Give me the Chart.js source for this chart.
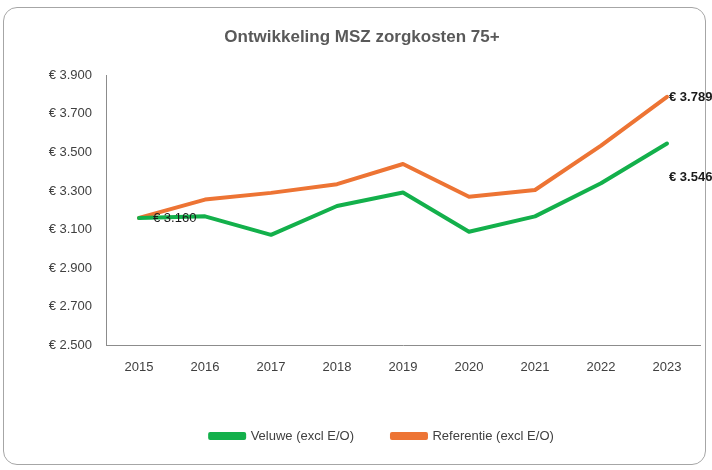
<!DOCTYPE html>
<html><head><meta charset="utf-8">
<script src="https://cdn.jsdelivr.net/npm/chart.js@4/dist/chart.umd.min.js"></script>
<style>
html,body{margin:0;padding:0;background:#fff;}
#wrap{position:relative;width:712px;height:470px;}
#frame{position:absolute;left:3px;top:7px;width:703px;height:458px;border:1px solid #a6a6a6;border-radius:14px;pointer-events:none;box-sizing:border-box;}
canvas{display:block;}
</style></head><body>
<div id="wrap"><canvas id="c" width="712" height="470"></canvas><div id="frame"></div></div>
<script>
const years = ['2015','2016','2017','2018','2019','2020','2021','2022','2023'];
const veluwe = [3160, 3168, 3072, 3222, 3292, 3088, 3168, 3340, 3546];
const referentie = [3160, 3255, 3290, 3335, 3440, 3270, 3305, 3535, 3789];
const seriesNames = ['Veluwe (excl E/O)', 'Referentie (excl E/O)'];
const chartTitle = 'Ontwikkeling MSZ zorgkosten 75+';
const yMin = 2500, yMax = 3900, yStep = 200;

const FONT = "'Liberation Sans Narrow', 'Arial Narrow', 'Liberation Sans', sans-serif";
const fmt = v => '€ ' + Math.round(v).toLocaleString('nl-NL');

const labelPlugin = {
  id: 'pointLabels',
  afterDatasetsDraw(chart) {
    const ctx = chart.ctx;
    const m0 = chart.getDatasetMeta(0).data;
    const m1 = chart.getDatasetMeta(1).data;
    ctx.save();
    ctx.fillStyle = '#1a1a1a';
    ctx.textBaseline = 'middle';
    ctx.textAlign = 'left';
    ctx.font = "13px " + FONT;
    const p0 = m1[0];
    ctx.fillText(fmt(referentie[0]), p0.x + 14, p0.y + 1);
    ctx.font = "bold 13px " + FONT;
    const pl = m1[m1.length - 1];
    ctx.fillText(fmt(referentie[referentie.length - 1]), pl.x + 2, pl.y + 1);
    const gl = m0[m0.length - 1];
    ctx.fillText(fmt(veluwe[veluwe.length - 1]), gl.x + 2, gl.y + 34);
    ctx.restore();
  }
};

const shiftLegend = {
  id: 'shiftLegend',
  afterLayout(chart) {
    const lg = chart.legend;
    const dx = 20;
    const want = 437;
    const cur = lg.top + lg.options.labels.padding + 7.5;
    const dy = want - cur;
    lg.left += dx; lg.right += dx;
    lg.top += dy; lg.bottom += dy;
  }
};

new Chart(document.getElementById('c'), {
  type: 'line',
  data: {
    labels: years,
    datasets: [
      { label: seriesNames[0], data: veluwe, borderColor: '#13b04b', backgroundColor: '#13b04b', borderWidth: 4, pointRadius: 0, tension: 0, borderJoinStyle: 'round', borderCapStyle: 'round' },
      { label: seriesNames[1], data: referentie, borderColor: '#ed7434', backgroundColor: '#ed7434', borderWidth: 4, pointRadius: 0, tension: 0, borderJoinStyle: 'round', borderCapStyle: 'round' }
    ]
  },
  options: {
    responsive: false,
    animation: false,
    devicePixelRatio: 1,
    layout: { padding: { left: 24, right: 12, top: 0, bottom: 0 } },
    plugins: {
      title: {
        display: true, text: chartTitle, color: '#595959',
        font: { family: FONT, size: 17, weight: 'bold' },
        padding: { top: 27, bottom: 28 }
      },
      legend: {
        position: 'bottom',
        labels: {
          color: '#404040', font: { family: FONT, size: 13 },
          boxWidth: 34, boxHeight: 4, padding: 38
        }
      },
      tooltip: { enabled: false }
    },
    scales: {
      x: {
        offset: true,
        grid: { display: false, drawTicks: false },
        border: { display: true, color: '#8c8c8c', width: 1 },
        ticks: { color: '#404040', font: { family: FONT, size: 13 }, padding: 15 },
        afterFit(s) { s.height = 64; }
      },
      y: {
        min: yMin, max: yMax,
        grid: { display: false, drawTicks: false },
        border: { display: true, color: '#8c8c8c', width: 1 },
        ticks: { stepSize: yStep, color: '#404040', font: { family: FONT, size: 13 }, padding: 14, callback: v => fmt(v) },
        afterFit(s) { s.width = 82; }
      }
    }
  },
  plugins: [labelPlugin, shiftLegend]
});
</script>
</body></html>
